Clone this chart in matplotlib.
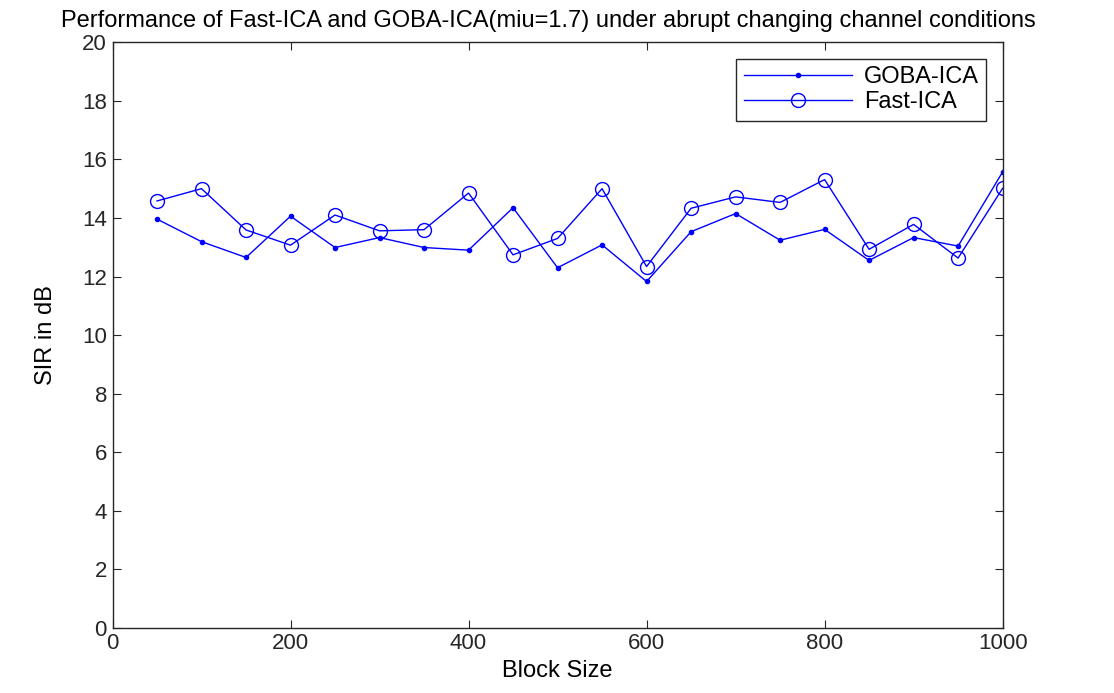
import matplotlib
matplotlib.use("Agg")
import matplotlib.pyplot as plt

plt.rcParams['font.family'] = ['Liberation Sans', 'DejaVu Sans']

# Block sizes and SIR values
block_size = [50, 100, 150, 200, 250, 300, 350, 400, 450, 500,
              550, 600, 650, 700, 750, 800, 850, 900, 950, 1000]
goba_sir = [13.96, 13.19, 12.65, 14.06, 12.99, 13.33, 12.99, 12.90, 14.35, 12.30,
            13.08, 11.83, 13.53, 14.15, 13.24, 13.61, 12.55, 13.33, 13.04, 15.57]
fast_sir = [14.58, 15.00, 13.59, 13.07, 14.10, 13.56, 13.60, 14.85, 12.74, 13.30,
            15.00, 12.34, 14.33, 14.72, 14.53, 15.31, 12.93, 13.78, 12.63, 15.01]

fig = plt.figure(figsize=(11.14, 6.93), dpi=100)
ax = fig.add_axes([0.101, 0.094, 0.799, 0.845])

ax.plot(block_size, goba_sir, color='#0000ff', lw=1.0, marker='.', ms=6,
        label='GOBA-ICA')
ax.plot(block_size, fast_sir, color='#0000ff', lw=1.0, marker='o', ms=10,
        mfc='none', mew=1.0, label='Fast-ICA')

ax.set_xlim(0, 1000)
ax.set_ylim(0, 20)
ax.set_xticks(range(0, 1001, 200))
ax.set_yticks(range(0, 21, 2))
ax.tick_params(direction='in', length=6, labelsize=16, top=True, right=True,
               colors='#262626', pad=4)
for s in ax.spines.values():
    s.set_linewidth(1.0)
    s.set_color('#262626')

ax.set_xlabel('Block Size', fontsize=17, labelpad=4)
ax.set_ylabel('SIR in dB', fontsize=17, labelpad=18)
ax.set_title('Performance of Fast-ICA and GOBA-ICA(miu=1.7) under abrupt changing channel conditions',
             fontsize=17, pad=11, x=0.49)

leg = ax.legend(loc='upper right', fontsize=17, fancybox=False, framealpha=1,
                edgecolor='#262626', handlelength=4.6, borderaxespad=0.7,
                labelspacing=0.15, borderpad=0.3, handletextpad=0.5)
leg.get_frame().set_linewidth(1.0)

fig.savefig('out.png', dpi=100)
